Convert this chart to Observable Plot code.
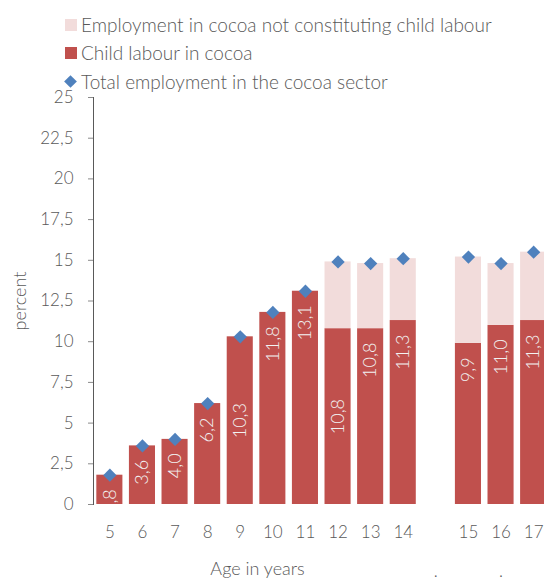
<!DOCTYPE html>
<html>
<head>
<meta charset="utf-8">
<script src="https://cdn.jsdelivr.net/npm/d3@7"></script>
<script src="https://cdn.jsdelivr.net/npm/@observablehq/plot@0.6"></script>
<style>
  html, body { margin: 0; padding: 0; background: white; }
  #wrap { width: 544px; height: 586px; overflow: hidden; position: relative; font-family: Lato, "Open Sans", sans-serif; font-weight: 300; color: #595959; }
  #legend { position: absolute; left: 0; top: 0; width: 544px; height: 96px; z-index: 2; pointer-events: none; }
  #chart { position: absolute; left: 0; top: 72px; }
  .row { position: absolute; left: 0; height: 28px; font-size: 19px; white-space: nowrap; }
  .row span.t { position: absolute; left: 81px; top: 50%; transform: translateY(-54%); }
  .sw { position: absolute; left: 65px; width: 12px; height: 12px; top: 8px; }
  .dia { position: absolute; left: 66px; width: 9px; height: 9px; top: 9px; transform: rotate(45deg); background: #4F81BD; }
  svg [aria-label="y-axis tick"], svg [aria-label="y-axis line"] { stroke: #8a8a8a; }
</style>
</head>
<body>
<div id="wrap">
  <div id="chart"></div>
  <div id="legend"></div>
</div>
<script>
// ---- data ----
const ages = ["5", "6", "7", "8", "9", "10", "11", "12", "13", "14", "15", "16", "17"];
const childLabour = [1.8, 3.6, 4.0, 6.2, 10.3, 11.8, 13.1, 10.8, 10.8, 11.3, 9.9, 11.0, 11.3];
const totalEmployment = [1.8, 3.6, 4.0, 6.2, 10.3, 11.8, 13.1, 14.9, 14.8, 15.1, 15.2, 14.8, 15.5];
const yTicks = [0, 2.5, 5, 7.5, 10, 12.5, 15, 17.5, 20, 22.5, 25];
const seriesNames = [
  "Employment in cocoa not constituting child labour",
  "Child labour in cocoa",
  "Total employment in the cocoa sector"
];
const gapKey = " ";
const centeredLabels = ["9", "12"];
const dotMarks = [gapKey, "16"];

// ---- colours ----
const cRed = "#C0504D", cPink = "#F2DCDB", cBlue = "#4F81BD";

// ---- legend ----
const legend = document.getElementById("legend");
const rowCenters = [25, 53, 82];
seriesNames.forEach((name, i) => {
  const row = document.createElement("div");
  row.className = "row";
  row.style.top = (rowCenters[i] - 14) + "px";
  const sw = document.createElement("div");
  if (i === 2) { sw.className = "dia"; }
  else { sw.className = "sw"; sw.style.background = i === 0 ? cPink : cRed; }
  row.appendChild(sw);
  const t = document.createElement("span");
  t.className = "t";
  t.textContent = name;
  row.appendChild(t);
  legend.appendChild(row);
});

// ---- chart ----
const data = ages.map((a, i) => ({age: a, cl: childLabour[i], total: totalEmployment[i]}));
const domain = [...ages.slice(0, 10), gapKey, ...ages.slice(10)];
const fmt = d => String(d).replace(".", ",");
const endLabels = data.filter(d => !centeredLabels.includes(d.age));
const midLabels = data.filter(d => centeredLabels.includes(d.age));

const chart = Plot.plot({
  width: 544,
  height: 514,
  marginTop: 25,
  marginBottom: 82,
  marginLeft: 93,
  marginRight: 0,
  style: {fontFamily: "Lato, 'Open Sans', sans-serif", fontWeight: 300, fontSize: "17px", color: "#595959", background: "white"},
  x: {domain, range: [89.8, 552.7], padding: 0.2, round: false, tickSize: 0, tickPadding: 21, label: null, tickFormat: d => d},
  y: {domain: [0, 25], ticks: yTicks, tickFormat: fmt, tickSize: 5, tickPadding: 15, line: true, label: null},
  marks: [
    Plot.barY(data, {x: "age", y1: 0, y2: "cl", fill: cRed}),
    Plot.barY(data, {x: "age", y1: "cl", y2: "total", fill: cPink}),
    Plot.text(endLabels, {x: "age", y: "cl", text: d => fmt(d.cl.toFixed(1)), rotate: -90, textAnchor: "end", dy: 14, fill: "#f2f2f2", fontSize: 18, clip: true}),
    Plot.text(midLabels, {x: "age", y: d => d.cl / 2, text: d => fmt(d.cl.toFixed(1)), rotate: -90, textAnchor: "middle", fill: "#f2f2f2", fontSize: 18}),
    Plot.dot(data, {x: "age", y: "total", symbol: "diamond2", r: 6, fill: cBlue}),
    Plot.text(["percent"], {frameAnchor: "left", textAnchor: "middle", rotate: -90, dx: -73, fontSize: 18}),
    Plot.text(["Age in years"], {frameAnchor: "bottom-left", textAnchor: "middle", dx: 164, dy: 70, fontSize: 18}),
    Plot.text(dotMarks, {x: d => d, frameAnchor: "bottom", text: d => ".", dy: 72, fontSize: 17})
  ]
});
document.getElementById("chart").appendChild(chart);
</script>
</body>
</html>
